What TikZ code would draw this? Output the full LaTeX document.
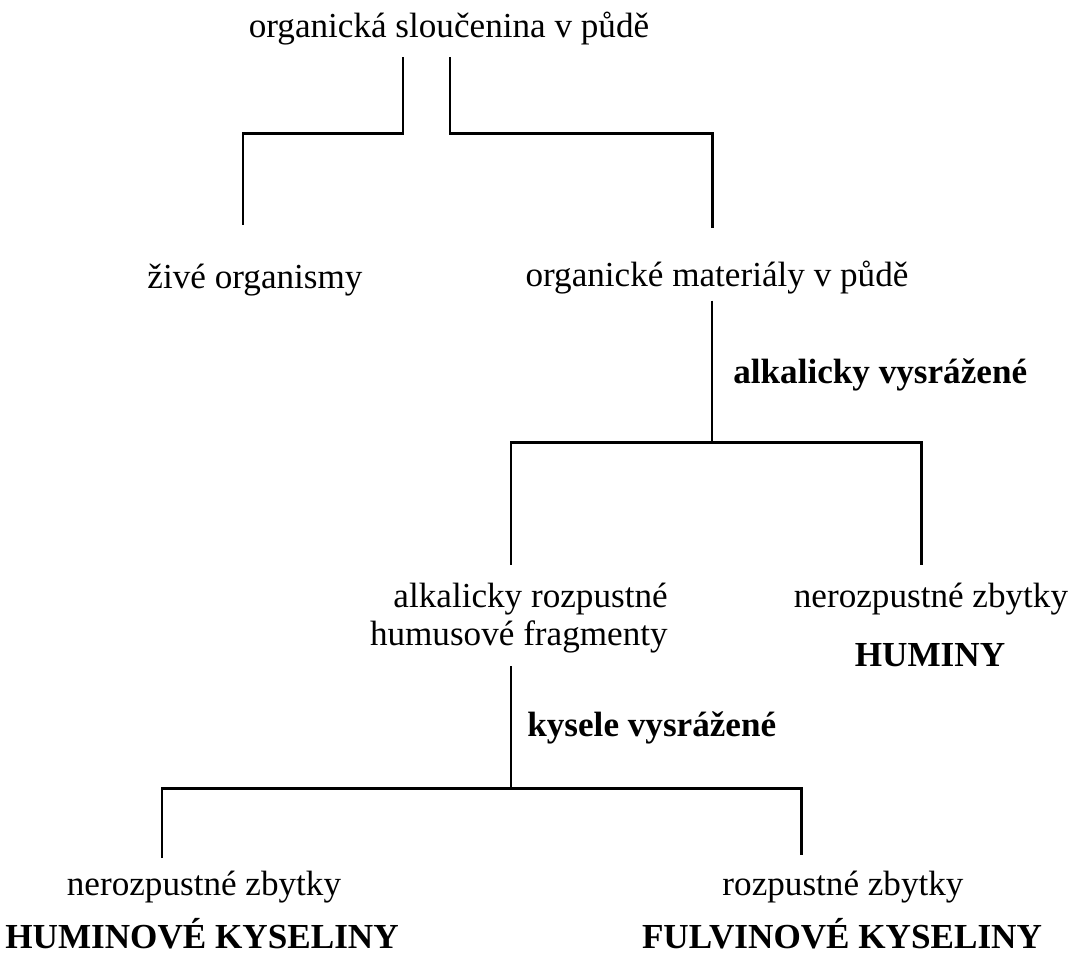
\documentclass[tikz,border=0pt]{standalone}
\usepackage{fontspec}
\setmainfont{Liberation Serif}
\usepackage{tikz}
\usetikzlibrary{positioning}

\begin{document}
\begin{tikzpicture}[
			x=0.02cm, y=-0.02cm,
			lbl/.style={inner sep=0pt, text height=14pt, text depth=4.4pt, font=\fontsize{20}{21.5}\selectfont},
			hl/.style={lbl, font=\fontsize{20}{21.5}\selectfont\bfseries},
			link/.style={line width=1.7pt}
			]
			\useasboundingbox (0,0) rectangle (1069,958);
			
			\node[lbl] (root) at (449,29) {organická sloučenina v půdě};
			\node[lbl] (live) at (255,280) {živé organismy};
			\node[lbl] (mat) at (717,278) {organické materiály v půdě};
			\node[hl, anchor=west] (alk) at (733,375) {alkalicky vysrážené};
			
			\node[lbl, anchor=east] (fragA) at (668,599) {alkalicky rozpustné};
			\node[lbl, anchor=east] (fragB) at (668,637) {humusové fragmenty};
			\node[lbl] (nez1) at (931,599) {nerozpustné zbytky};
			\node[hl] (humin) at (930,658) {HUMINY};
			\node[hl, anchor=west] (kys) at (527,728) {kysele vysrážené};
			
			\node[lbl] (nez2) at (204,887) {nerozpustné zbytky};
			\node[hl] (hk) at (202,940) {HUMINOVÉ KYSELINY};
			\node[lbl] (roz) at (843,887) {rozpustné zbytky};
			\node[hl] (fk) at (842,940) {FULVINOVÉ KYSELINY};
			
			% branch points
			\coordinate (sL) at (403,133);
			\coordinate (sR) at (450,133);
			\coordinate (sM) at (712,442);
			\coordinate (bL) at (511,442);
			\coordinate (bR) at (921,442);
			\coordinate (kM) at (511,788);
			\coordinate (kL) at (162,788);
			\coordinate (kR) at (801,788);
			
			\draw[link, shorten <=0.23cm, shorten >=0.77cm] (root.south -| sL) -- (sL) -| ([xshift=-0.24cm]live.north);
			\draw[link, shorten <=0.23cm, shorten >=0.67cm] (root.south -| sR) -- (sR) -| ([xshift=-0.1cm]mat.north);
			
			\draw[link, shorten <=0.12cm] (mat.south -| sM) -- (sM);
			\draw[link, shorten <=0.35cm, shorten >=0.35cm] (fragA.north -| bL) |- (bR) -- (nez1.north -| bR);
			
			\draw[link, shorten <=0.25cm] (fragB.south -| kM) -- (kM);
			\draw[link, shorten <=0.25cm, shorten >=0.31cm] (nez2.north -| kL) |- (kR) -- (roz.north -| kR);
		\end{tikzpicture}
\end{document}
